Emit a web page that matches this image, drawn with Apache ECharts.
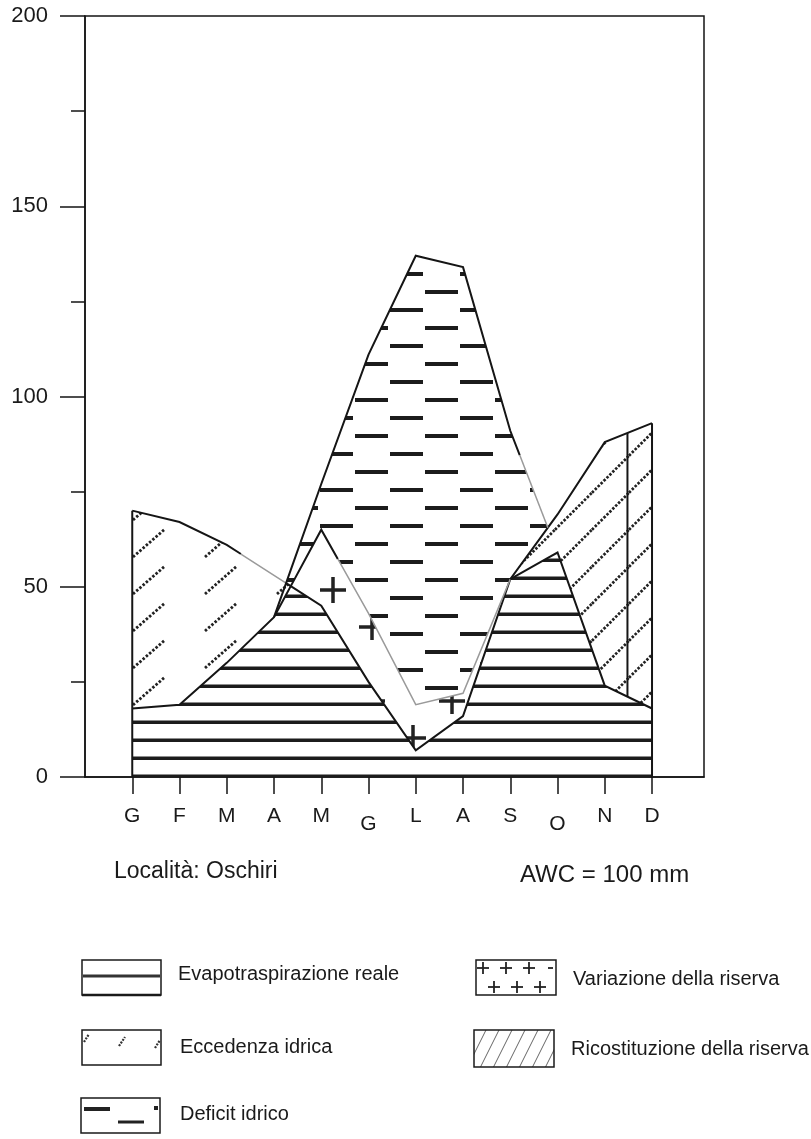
<!DOCTYPE html>
<html>
<head>
<meta charset="utf-8">
<script src="https://cdn.jsdelivr.net/npm/echarts@6/dist/echarts.min.js"></script>
<style>
  html, body { margin: 0; padding: 0; background: #fff; }
  #chart { width: 811px; height: 1139px; }
</style>
</head>
<body>
<div id="chart"></div>
<script>
// bilancio idrico (Thornthwaite) - Oschiri, AWC 100 mm
const mesi = ['G', 'F', 'M', 'A', 'M', 'G', 'L', 'A', 'S', 'O', 'N', 'D'];
const precipitazioni = [70, 67, 61, 53, 45, 25, 7, 16, 52, 69, 88, 93];
const etPotenziale = [18, 19, 30, 42, 77, 111, 137, 134, 91, 59, 24, 18];
const etReale = [18, 19, 30, 42, 65, 43, 19, 22, 52, 59, 24, 18];
const ricaricaCompleta = 11.48; // riserva di nuovo piena (frazione di mese)
const yTicks = [0, 50, 100, 150, 200];

const xMesi = mesi.map((m, i) => i + 1);
const NERO = '#151515';
const FONT = '"Liberation Sans", Arial, sans-serif';

function interp(arr, x) {
  if (x <= 1) return arr[0];
  if (x >= arr.length) return arr[arr.length - 1];
  const i = Math.floor(x) - 1;
  const t = x - Math.floor(x);
  return t === 0 ? arr[i] : arr[i] + (arr[i + 1] - arr[i]) * t;
}
const P = x => interp(precipitazioni, x);
const PE = x => interp(etPotenziale, x);
const AE = x => interp(etReale, x);

// punti di incrocio fra le curve, per avere poligoni esatti
function incroci(a, b) {
  const out = [];
  for (let i = 0; i < a.length - 1; i++) {
    const d0 = a[i] - b[i], d1 = a[i + 1] - b[i + 1];
    if (d0 * d1 < 0) out.push(i + 1 + d0 / (d0 - d1));
  }
  return out;
}
const xPPE = incroci(precipitazioni, etPotenziale);
const breaks = xMesi
  .concat(xPPE, incroci(precipitazioni, etReale), incroci(etPotenziale, etReale))
  .sort((a, b) => a - b);

function campioni(x0, x1) {
  return [x0].concat(breaks.filter(x => x > x0 && x < x1), [x1]);
}
function poligono(top, bottom, x0, x1) {
  const xs = campioni(x0, x1);
  const su = xs.map(x => [x, Math.max(top(x), bottom(x))]);
  const giu = xs.slice().reverse().map(x => [x, bottom(x)]);
  return su.concat(giu);
}

// ---- trame
function trama(w, h, draw) {
  const c = document.createElement('canvas');
  c.width = w; c.height = h;
  const ctx = c.getContext('2d');
  for (const dx of [-w, 0, w]) for (const dy of [-h, 0, h]) draw(ctx, dx, dy);
  return { image: c, repeat: 'repeat' };
}
const tramaET = trama(10, 18, (ctx, dx, dy) => {
  ctx.fillStyle = '#1c1c1c';
  ctx.fillRect(dx, dy + 0.5, 10, 3.5);
});
const tramaDeficit = trama(70, 36, (ctx, dx, dy) => {
  ctx.fillStyle = '#1c1c1c';
  ctx.fillRect(dx + 5, dy + 2, 33, 4);
  ctx.fillRect(dx + 40, dy + 20, 33, 4);
});
const tramaEccedenza = trama(72, 37, (ctx, dx, dy) => {
  ctx.strokeStyle = '#222';
  ctx.lineWidth = 2.8;
  ctx.setLineDash([2.5, 1.8]);
  ctx.beginPath();
  ctx.moveTo(dx + 21 - 32, dy + 11 + 28);
  ctx.lineTo(dx + 21, dy + 11);
  ctx.stroke();
});
const tramaRicarica = trama(37, 37, (ctx, dx, dy) => {
  ctx.strokeStyle = '#222';
  ctx.lineWidth = 2.7;
  ctx.setLineDash([2.5, 1.6]);
  ctx.beginPath();
  ctx.moveTo(dx, dy + 11.7); ctx.lineTo(dx + 11.7, dy);
  ctx.moveTo(dx + 11.7, dy + 37); ctx.lineTo(dx + 37, dy + 11.7);
  ctx.stroke();
});
const tramaRiserva = trama(80, 74, (ctx, dx, dy) => {
  ctx.fillStyle = '#222';
  for (const [cx, cy] of [[13, 72], [52, 35]]) {
    ctx.fillRect(dx + cx - 13, dy + cy - 1.75, 26, 3.5);
    ctx.fillRect(dx + cx - 1.75, dy + cy - 13, 3.5, 26);
  }
});
const tramaLegRicarica = trama(13, 26, (ctx, dx, dy) => {
  ctx.strokeStyle = '#666';
  ctx.lineWidth = 1;
  ctx.beginPath();
  ctx.moveTo(dx, dy + 26); ctx.lineTo(dx + 13, dy);
  ctx.stroke();
});

function serieArea(nome, fill, top, bottom, x0, x1) {
  return {
    type: 'custom', name: nome, coordinateSystem: 'cartesian2d',
    data: [[x0, 0]], silent: true, z: 2,
    renderItem: (params, api) => ({
      type: 'polygon',
      shape: { points: poligono(top, bottom, x0, x1).map(p => api.coord(p)) },
      style: { fill: fill, stroke: null }
    })
  };
}

const grigio = { stroke: '#9a9a9a', lineWidth: 1.5 };
const nero = { stroke: NERO, lineWidth: 2 };
const tratti = [
  [P, 1, 3.3, nero], [P, 3.3, xPPE[0], grigio], [P, xPPE[0], 12, nero],
  [AE, 1, 5.35, nero], [AE, 5.35, 9, grigio], [AE, 9, 12, nero],
  [PE, 4, 9.2, nero], [PE, 9.2, xPPE[1], grigio]
];

const seriesLinee = {
  type: 'custom', name: 'linee', coordinateSystem: 'cartesian2d',
  data: [[1, 0]], silent: true, z: 5,
  renderItem: (params, api) => {
    const children = tratti.map(([f, a, b, st]) => ({
      type: 'polyline',
      shape: { points: campioni(a, b).map(x => api.coord([x, f(x)])) },
      style: Object.assign({ fill: null, lineJoin: 'miter' }, st)
    }));
    const verticali = [[1, 0, P(1)], [12, 0, P(12)], [ricaricaCompleta, AE(ricaricaCompleta), P(ricaricaCompleta)]];
    verticali.forEach(([x, y0, y1]) => {
      children.push({
        type: 'polyline',
        shape: { points: [api.coord([x, y0]), api.coord([x, y1])] },
        style: Object.assign({ fill: null }, nero)
      });
    });
    return { type: 'group', children };
  }
};

const minPA = x => Math.min(P(x), AE(x));
const maxPA = x => Math.max(P(x), AE(x));

const chart = echarts.init(document.getElementById('chart'));
const testo = (x, y, t, size) => ({
  type: 'text', z: 10,
  style: { x, y, text: t, font: size + 'px ' + FONT, fill: '#1a1a1a', verticalAlign: 'middle' }
});
const box = (x, y, w, h, fill) => ({
  type: 'rect', z: 10, shape: { x, y, width: w, height: h },
  style: { fill: fill || '#fff', stroke: '#1a1a1a', lineWidth: 1.5 }
});
const riga = (x1, y1, x2, y2, w, col, dash) => ({
  type: 'line', z: 11, shape: { x1, y1, x2, y2 },
  style: { stroke: col || '#222', lineWidth: w, lineDash: dash || null }
});
const croce = (cx, cy, s) => [riga(cx - s, cy, cx + s, cy, 1.8), riga(cx, cy - s, cx, cy + s, 1.8)];

chart.setOption({
  animation: false,
  grid: { left: 85, right: 107, top: 16, bottom: 362, show: true, borderColor: NERO, borderWidth: 1.5 },
  xAxis: {
    type: 'value', min: 0, max: 13.1,
    axisLine: { onZero: false, lineStyle: { color: NERO, width: 1.5 } },
    axisTick: { show: true, customValues: xMesi, length: 17, lineStyle: { color: NERO, width: 1.5 } },
    axisLabel: {
      customValues: xMesi, margin: 29, color: '#1a1a1a', fontFamily: FONT, fontSize: 21,
      formatter: v => {
        const i = Math.round(v) - 1;
        return (i === 5 || i === 9) ? '{basso|' + mesi[i] + '}' : mesi[i];
      },
      rich: { basso: { fontSize: 21, fontFamily: FONT, color: '#1a1a1a', padding: [8, 0, 0, 0] } }
    },
    splitLine: { show: false }
  },
  yAxis: {
    type: 'value', min: yTicks[0], max: yTicks[yTicks.length - 1], interval: 50,
    axisLine: { show: true, lineStyle: { color: NERO, width: 1.5 } },
    axisTick: { show: true, length: 25, lineStyle: { color: NERO, width: 1.5 } },
    minorTick: { show: true, splitNumber: 2, length: 14, lineStyle: { color: NERO, width: 1.5 } },
    axisLabel: { margin: 37, color: '#1a1a1a', fontFamily: FONT, fontSize: 22 },
    splitLine: { show: false }
  },
  series: [
    serieArea('Evapotraspirazione reale', tramaET, minPA, () => 0, 1, 12),
    serieArea('Eccedenza idrica', tramaEccedenza, P, AE, 1, 6),
    serieArea('Variazione della riserva', tramaRiserva, AE, P, 4, 9.5),
    serieArea('Deficit idrico', tramaDeficit, PE, maxPA, 4, 10.5),
    serieArea('Ricostituzione della riserva', tramaRicarica, P, AE, 8.5, 12),
    seriesLinee
  ],
  graphic: [
    testo(114, 872, 'Località: Oschiri', 23),
    testo(520, 875, 'AWC = 100 mm', 24),
    // legenda
    box(82, 960, 79, 35), riga(83, 976, 160, 976, 3, '#333'), riga(82, 995, 161, 995, 2.5, '#1a1a1a'),
    testo(178, 974, 'Evapotraspirazione reale', 20),
    box(82, 1030, 79, 35),
    riga(84, 1042, 89, 1034, 2.2, '#333', [2, 1.2]),
    riga(119, 1046, 125, 1037, 2.2, '#333', [2, 1.2]),
    riga(155, 1048, 160, 1040, 2.2, '#333', [2, 1.2]),
    testo(180, 1047, 'Eccedenza idrica', 20),
    box(81, 1098, 79, 35),
    riga(84, 1109, 110, 1109, 4), riga(118, 1122, 144, 1122, 3), riga(154, 1108, 158, 1108, 4),
    testo(180, 1114, 'Deficit idrico', 20),
    box(476, 960, 80, 35),
    ...croce(483, 968, 6), ...croce(506, 968, 6), ...croce(529, 968, 6), riga(548, 968, 553, 968, 1.8),
    ...croce(494, 987, 6), ...croce(517, 987, 6), ...croce(540, 987, 6),
    testo(573, 979, 'Variazione della riserva', 20),
    box(474, 1030, 80, 37, tramaLegRicarica),
    testo(571, 1049, 'Ricostituzione della riserva', 20)
  ]
});
</script>
</body>
</html>
